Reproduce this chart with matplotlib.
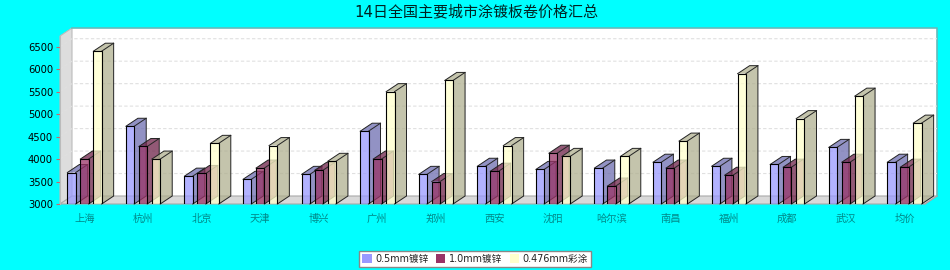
import matplotlib
matplotlib.use('Agg')
import matplotlib.pyplot as plt
from matplotlib.patches import Patch

plt.rcParams['font.family'] = ['DejaVu Sans', 'Noto Sans CJK SC']

cities = ['上海', '杭州', '北京', '天津', '博兴', '广州', '郑州', '西安', '沈阳', '哈尔滨', '南昌', '福州', '成都', '武汉', '均价']
galv05 = [3700, 4730, 3620, 3550, 3660, 4620, 3660, 3840, 3770, 3800, 3930, 3840, 3880, 4260, 3930]
galv10 = [4000, 4280, 3680, 3800, 3750, 4000, 3500, 3730, 4130, 3400, 3800, 3640, 3820, 3930, 3820]
color0476 = [6400, 4000, 4350, 4300, 3950, 5500, 5750, 4300, 4060, 4060, 4400, 5900, 4900, 5400, 4800]
series_names = ['0.5mm镀锌', '1.0mm镀锌', '0.476mm彩涂']
yticks = [3000, 3500, 4000, 4500, 5000, 5500, 6000, 6500]

W, H = 950, 270
BG = '#00FFFF'
colors = ['#9999FF', '#993366', '#FFFFCC']
sides = ['#6E6EB0', '#6E2248', '#B0B090']

fig = plt.figure(figsize=(W / 100, H / 100), dpi=100, facecolor=BG)
ax = fig.add_axes([60 / W, 1 - 204 / H, 865 / W, 168 / H])
ax.set_facecolor('none')

step_px = 58.57
px_y = 22.47 / 500
ax.set_xlim((60 - 84.5) / step_px, (925 - 84.5) / step_px)
ax.set_ylim(3000, 3000 + 168 / px_y)

# 3d depth in data units
dx = 12 / step_px
dy = 8 / px_y
bar_w = 8.3 / step_px
bar_step = 13 / step_px
x0, x1 = ax.get_xlim()
y0, y1 = ax.get_ylim()

# walls
ax.fill([x0, x0 + dx, x1 + dx, x1 + dx, x0 + dx], [y1, y1 + dy, y1 + dy, y0 + dy, y0 + dy],
        fc='white', ec='none', clip_on=False, zorder=0)
ax.fill([x0, x0 + dx, x0 + dx, x0], [y0, y0 + dy, y1 + dy, y1], fc='#DDDDDD', ec='#BBBBBB', lw=0.8, clip_on=False, zorder=1)
ax.fill([x0, x0 + dx, x1 + dx, x1], [y0, y0 + dy, y0 + dy, y0], fc='#D9D9D9', ec='#AAAAAA', lw=0.8, clip_on=False, zorder=1)
ax.plot([x0 + dx, x1 + dx, x1 + dx], [y1 + dy, y1 + dy, y0 + dy], color='#66BBBB', lw=1.2, clip_on=False, zorder=1)
ax.plot([x1, x1 + dx], [y0, y0 + dy], color='#AAAAAA', lw=0.8, clip_on=False, zorder=1)

# dashed grid on back and left wall
for t in yticks[1:]:
    ax.plot([x0, x0 + dx, x1 + dx], [t, t + dy, t + dy], color='#E0E0E0', lw=0.8, ls=(0, (3, 2)), clip_on=False, zorder=2)

z = 3
for i, vals in enumerate([galv05, galv10, color0476]):
    for c, v in enumerate(vals):
        left = c + (i - 1) * bar_step - bar_w / 2
        right = left + bar_w
        ax.fill([right, right + dx, right + dx, right], [3000, 3000 + dy, v + dy, v],
                fc=sides[i], alpha=0.75, ec='none', clip_on=False, zorder=z)
        ax.fill([left, left + dx, right + dx, right], [v, v + dy, v + dy, v],
                fc=sides[i], alpha=0.75, ec='none', clip_on=False, zorder=z)
        ax.plot([left, left + dx, right + dx, right + dx, right],
                [v, v + dy, v + dy, 3000 + dy, 3000], color='#222222', lw=0.7, clip_on=False, zorder=z + 0.2)
        ax.plot([right, right + dx], [v, v + dy], color='#222222', lw=0.7, clip_on=False, zorder=z + 0.2)
    xs = [c + (i - 1) * bar_step for c in range(len(cities))]
    ax.bar(xs, [v - 3000 for v in vals], width=bar_w, bottom=3000, color=colors[i], alpha=0.75, zorder=z + 0.1)
    ax.bar(xs, [v - 3000 for v in vals], width=bar_w, bottom=3000, fill=False, edgecolor='black', lw=0.8, zorder=z + 0.3)
    z += 1

for s in ['top', 'right', 'bottom']:
    ax.spines[s].set_visible(False)
ax.spines['left'].set_color('#BBBBBB')

ax.set_yticks(yticks)
ax.set_yticklabels([str(t) for t in yticks], fontsize=7.2, color='black')
ax.set_xticks(range(len(cities)))
ax.set_xticklabels(cities, fontsize=7.4, color='#008888', va='center')
ax.tick_params(axis='x', length=0, pad=10.5)
ax.tick_params(axis='y', length=3, width=0.8, color='#CC6666', pad=2)

fig.text(476 / W, 1 - 12 / H, '14日全国主要城市涂镀板卷价格汇总', ha='center', va='center', fontsize=10.8, color='#002222')

handles = [Patch(fc=colors[i], ec='none', label=series_names[i]) for i in range(3)]
fig.legend(handles=handles, loc='center', bbox_to_anchor=(475 / W, 1 - 259 / H), ncol=3, fontsize=6.9,
           frameon=True, fancybox=False, facecolor='white', edgecolor='#888888', framealpha=1,
           handlelength=1, handleheight=1, handletextpad=0.35, columnspacing=0.8, borderpad=0.3, borderaxespad=0, labelcolor='#222222')

fig.savefig('out.png', dpi=100, facecolor=BG)
